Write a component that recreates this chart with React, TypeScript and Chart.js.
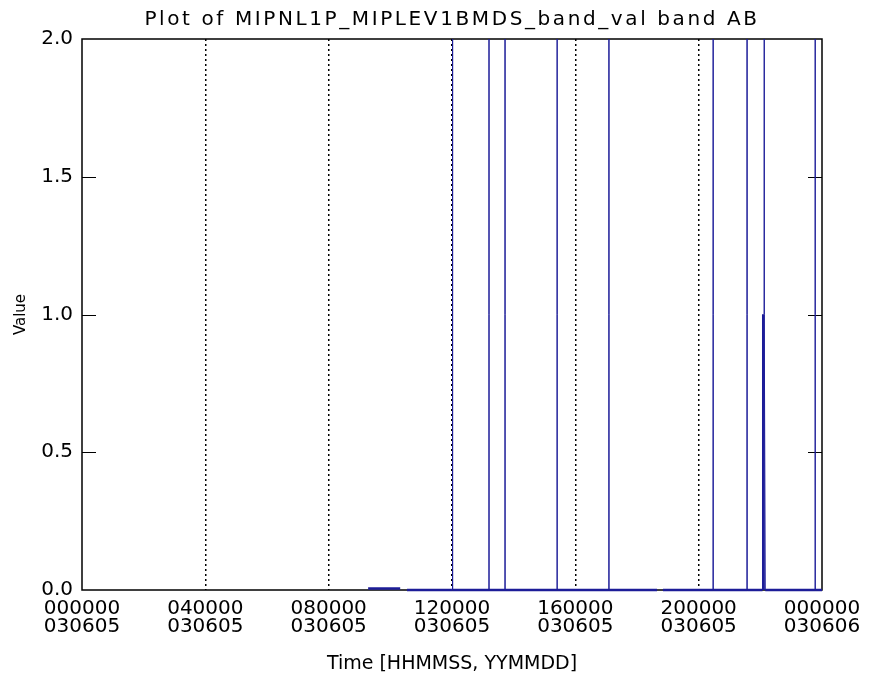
import React, { useEffect, useRef } from "react";
import { Chart, registerables } from "chart.js";

Chart.register(...registerables);

const TITLE = "Plot of MIPNL1P_MIPLEV1BMDS_band_val band AB";
const X_TITLE = "Time [HHMMSS, YYMMDD]";
const Y_TITLE = "Value";
const START_DAY = 5; // 030605
const X_TICK_HOURS = [0, 4, 8, 12, 16, 20, 24];
const Y_TICKS = [0, 0.5, 1.0, 1.5, 2.0];

// Sample times (hours after 000000 030605) and values; null marks a data gap
const sampleHours = [
  9.28, 10.32, 10.4, 10.54,
  12.02, 12.02, 12.02,
  13.2, 13.2, 13.2,
  13.72, 13.72, 13.72,
  15.41, 15.41, 15.41,
  17.09, 17.09, 17.09,
  18.65, 18.74, 18.84,
  20.47, 20.47, 20.47,
  21.57, 21.57, 21.57,
  22.07, 22.07, 22.1, 22.1, 22.12, 22.12, 22.13, 22.13, 22.16,
  23.78, 23.78, 23.78,
  24.0,
];
const sampleValues: (number | null)[] = [
  0.005, 0.005, null, 0,
  0, 2, 0,
  0, 2, 0,
  0, 2, 0,
  0, 2, 0,
  0, 2, 0,
  0, null, 0,
  0, 2, 0,
  0, 2, 0,
  0, 1, 0, 1, 0, 2, 0, 1, 0,
  0, 2, 0,
  0,
];

const FONT = "'DejaVu Sans', sans-serif";
const LINE_COLOR = "#1c1c98";

function pad2(n: number) {
  return String(n).padStart(2, "0");
}

function timeLabel(v: number): string[] {
  const day = Math.floor(v / 86400 + 1e-9);
  const rem = Math.round(v - day * 86400);
  const hh = Math.floor(rem / 3600);
  const mm = Math.floor((rem % 3600) / 60);
  const ss = rem % 60;
  return [pad2(hh) + pad2(mm) + pad2(ss), "0306" + pad2(START_DAY + day)];
}

const framePlugin = {
  id: "idlFrame",
  beforeDatasetsDraw(chart: any) {
    const { ctx, chartArea: a, scales } = chart;
    const y = scales.y;
    ctx.save();
    ctx.strokeStyle = "#000";
    ctx.lineWidth = 1.5;
    ctx.strokeRect(a.left, a.top, a.right - a.left, a.bottom - a.top);
    ctx.lineWidth = 1;
    for (const t of y.ticks) {
      if (t.value <= y.min || t.value >= y.max) continue;
      const py = Math.round(y.getPixelForValue(t.value)) + 0.5;
      ctx.beginPath();
      ctx.moveTo(a.left, py);
      ctx.lineTo(a.left + 14, py);
      ctx.moveTo(a.right, py);
      ctx.lineTo(a.right - 14, py);
      ctx.stroke();
    }
    ctx.restore();
  },
  afterDraw(chart: any) {
    const { ctx, chartArea: a } = chart;
    ctx.save();
    ctx.fillStyle = "#000";
    ctx.font = `normal 20px ${FONT}`;
    (ctx as any).letterSpacing = "2.6px";
    ctx.textAlign = "center";
    ctx.textBaseline = "middle";
    ctx.fillText(TITLE, (a.left + a.right) / 2, a.top / 2);
    ctx.restore();
  },
};

export default function App() {
  const ref = useRef<HTMLCanvasElement | null>(null);

  useEffect(() => {
    if (!ref.current) return;
    const data = sampleHours.map((h, i) => ({ x: h * 3600, y: sampleValues[i] }));
    const chart = new Chart(ref.current, {
      type: "line",
      data: {
        datasets: [
          {
            data: data as any,
            borderColor: LINE_COLOR,
            borderWidth: 1,
            pointRadius: 0,
            tension: 0,
            spanGaps: false,
            fill: false,
            clip: 4,
            segment: {
              borderWidth: (c: any) => (c.p0.parsed.y === c.p1.parsed.y ? 2.5 : 1),
            },
          },
        ],
      },
      options: {
        animation: false,
        responsive: false,
        maintainAspectRatio: false,
        layout: { padding: { left: 0, right: 51, top: 39, bottom: 0 } },
        plugins: {
          legend: { display: false },
          tooltip: { enabled: false },
          title: { display: false },
        },
        scales: {
          x: {
            type: "linear",
            min: X_TICK_HOURS[0] * 3600,
            max: X_TICK_HOURS[X_TICK_HOURS.length - 1] * 3600,
            afterBuildTicks: (s: any) => {
              s.ticks = X_TICK_HOURS.map((h) => ({ value: h * 3600 }));
            },
            afterFit: (s: any) => {
              s.height = 85;
            },
            grid: {
              drawTicks: false,
              lineWidth: 1.5,
              color: (c: any) =>
                c.tick && c.tick.value > 0 && c.tick.value < 86400 ? "#000" : "rgba(0,0,0,0)",
            },
            border: { display: false, dash: [2, 3] },
            ticks: {
              autoSkip: false,
              maxRotation: 0,
              minRotation: 0,
              padding: 10,
              color: "#000",
              font: { family: FONT, size: 20, lineHeight: 0.9 },
              callback: (v: any) => timeLabel(Number(v)),
            },
            title: {
              display: true,
              text: X_TITLE,
              color: "#000",
              font: { family: FONT, size: 19, lineHeight: 1.2 },
              padding: { top: 8, bottom: 0 },
            },
          },
          y: {
            type: "linear",
            min: Y_TICKS[0],
            max: Y_TICKS[Y_TICKS.length - 1],
            afterBuildTicks: (s: any) => {
              s.ticks = Y_TICKS.map((v) => ({ value: v }));
            },
            afterFit: (s: any) => {
              s.width = 82;
            },
            grid: { display: false, drawTicks: false },
            border: { display: false },
            ticks: {
              padding: 9,
              color: "#000",
              font: { family: FONT, size: 20 },
              callback: (v: any) => Number(v).toFixed(1),
            },
            title: {
              display: true,
              text: Y_TITLE,
              color: "#000",
              font: { family: FONT, size: 15, lineHeight: 1.2 },
              padding: { top: 12, bottom: 0 },
            },
          },
        },
      },
      plugins: [framePlugin],
    });
    return () => chart.destroy();
  }, []);

  return (
    <div style={{ position: "absolute", left: 0, top: 0, width: 873, height: 675, background: "#fff" }}>
      <canvas ref={ref} width={873} height={675} />
    </div>
  );
}
